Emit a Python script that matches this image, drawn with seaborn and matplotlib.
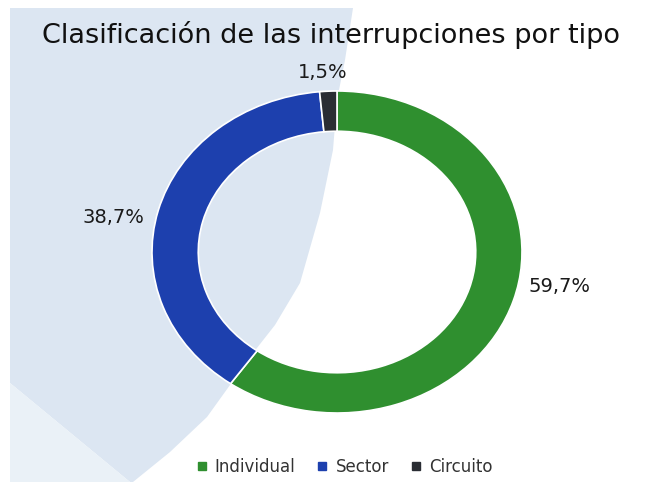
import matplotlib
matplotlib.use("Agg")
import matplotlib.pyplot as plt
from matplotlib.patches import Polygon
from matplotlib.lines import Line2D
import seaborn as sns

# ---- data ----
categories = ["Individual", "Sector", "Circuito"]
values = [59.7, 38.7, 1.5]
value_labels = ["59,7%", "38,7%", "1,5%"]
colors = ["#2f8f2f", "#1d40ae", "#2a2d33"]
title = "Clasificación de las interrupciones por tipo"

sns.set_theme(style="white")
plt.rcParams["font.family"] = ["DejaVu Sans"]

W, H = 650, 482
fig = plt.figure(figsize=(W / 100, H / 100), dpi=100)
fig.patch.set_facecolor("white")

def fx(px, py):
    return (px / W, 1 - py / H)

# scanned light-blue background shape
shape = [(10, 8), (353, 8), (345, 60), (337, 100), (333, 150), (320, 213),
         (300, 283), (275, 325), (253, 353), (207, 417), (170, 452), (133, 482),
         (130, 482), (10, 383)]
fig.add_artist(Polygon([fx(*p) for p in shape], closed=True, transform=fig.transFigure,
                       facecolor="#dce6f2", edgecolor="none", zorder=-2))
low = [(10, 383), (130, 482), (10, 482)]
fig.add_artist(Polygon([fx(*p) for p in low], closed=True, transform=fig.transFigure,
                       facecolor="#eaf1f7", edgecolor="none", zorder=-2))

# donut axes (slightly elliptical like the scan)
cx, cy, rx, ry = 337, 252, 185, 161
ax = fig.add_axes([(cx - rx) / W, 1 - (cy + ry) / H, 2 * rx / W, 2 * ry / H])
ax.set_facecolor("none")
ax.pie(values, colors=colors, startangle=90, counterclock=False,
       wedgeprops=dict(width=0.25, edgecolor="white", linewidth=1.2))
ax.set_aspect("auto")
ax.set_xlim(-1, 1)
ax.set_ylim(-1, 1)
ax.axis("off")

label_pos = [(1.205, -0.217), (-1.21, 0.217), (-0.076, 1.118)]
for (lx, ly), txt in zip(label_pos, value_labels):
    ax.text(lx, ly, txt, ha="center", va="center", fontsize=14, color="#1a1a1a",
            clip_on=False)

fig.text(331 / W, 1 - 35 / H, title, ha="center", va="center", fontsize=19.5,
         color="#111111")

handles = [Line2D([0], [0], marker="s", linestyle="none", markersize=6,
                  markerfacecolor=c, markeredgecolor=c) for c in colors]
fig.legend(handles, categories, loc="center", bbox_to_anchor=fx(342, 467), ncol=3,
           frameon=False, fontsize=12, handletextpad=0.2, columnspacing=1.0,
           handlelength=1.2, labelcolor="#333333")

fig.savefig("out.png", dpi=100)
